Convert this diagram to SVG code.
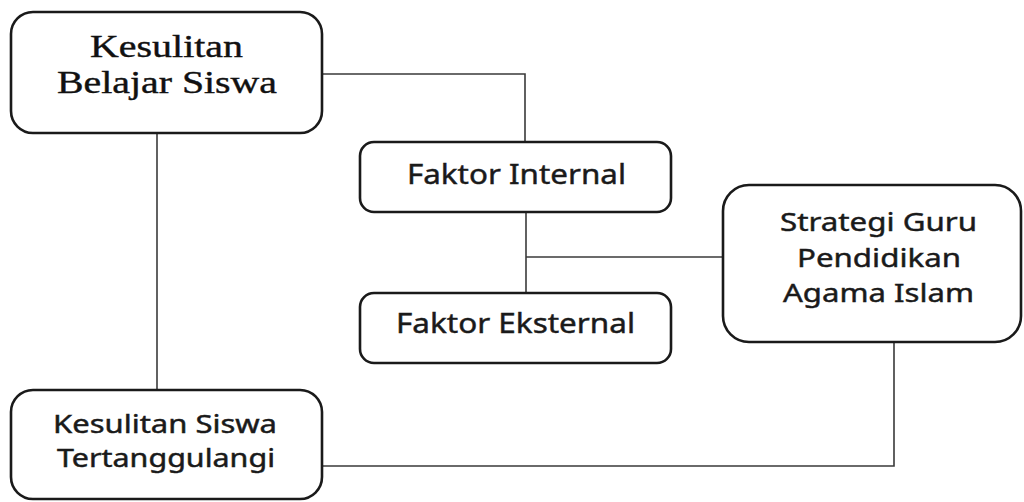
<svg xmlns="http://www.w3.org/2000/svg" width="1024" height="502" viewBox="0 0 1024 502">
<style>
.box{fill:#fff;stroke:#1a1a1a;stroke-width:2.6}
.conn{fill:none;stroke:#3a3a3a;stroke-width:1.6}
.serif{font-family:"Liberation Serif","Times New Roman",serif;font-size:32px;fill:#111;stroke:#111;stroke-width:0.4;text-anchor:middle}
.sans{font-family:"Noto Sans","Open Sans",sans-serif;fill:#1a1a1a;stroke:#1a1a1a;stroke-width:0.45;text-anchor:middle}
</style>
<rect width="1024" height="502" fill="#fff"/>
<g id="connectors">
<polyline class="conn" points="322,74 525,74 525,142"/>
<line class="conn" x1="526" y1="212" x2="526" y2="293"/>
<line class="conn" x1="526" y1="257" x2="723" y2="257"/>
<line class="conn" x1="157" y1="133" x2="157" y2="390"/>
<polyline class="conn" points="894,342 894,466 322,466"/>
</g>
<g id="node-kesulitan-belajar">
<rect class="box" x="11" y="12" width="311" height="121" rx="22"/>
<text class="serif" x="166.5" y="57" textLength="153" lengthAdjust="spacingAndGlyphs">Kesulitan</text>
<text class="serif" x="167" y="93" textLength="220" lengthAdjust="spacingAndGlyphs">Belajar Siswa</text>
</g>
<g id="node-faktor-internal">
<rect class="box" x="360" y="142" width="311" height="70" rx="14"/>
<text class="sans" x="516.5" y="184" font-size="27.5" textLength="219" lengthAdjust="spacingAndGlyphs">Faktor Internal</text>
</g>
<g id="node-faktor-eksternal">
<rect class="box" x="360" y="293" width="311" height="70" rx="14"/>
<text class="sans" x="515.5" y="333" font-size="27.5" textLength="239" lengthAdjust="spacingAndGlyphs">Faktor Eksternal</text>
</g>
<g id="node-strategi">
<rect class="box" x="723" y="185" width="298" height="157" rx="26"/>
<text class="sans" x="878.5" y="231" font-size="25.5" textLength="197" lengthAdjust="spacingAndGlyphs">Strategi Guru</text>
<text class="sans" x="879" y="267" font-size="25.5" textLength="164" lengthAdjust="spacingAndGlyphs">Pendidikan</text>
<text class="sans" x="878.5" y="302" font-size="25.5" textLength="191" lengthAdjust="spacingAndGlyphs">Agama Islam</text>
</g>
<g id="node-kesulitan-tertanggulangi">
<rect class="box" x="11" y="390" width="311" height="109" rx="22"/>
<text class="sans" x="165" y="433" font-size="24.5" textLength="224" lengthAdjust="spacingAndGlyphs">Kesulitan Siswa</text>
<text class="sans" x="166" y="467" font-size="24.5" textLength="218" lengthAdjust="spacingAndGlyphs">Tertanggulangi</text>
</g>
</svg>
